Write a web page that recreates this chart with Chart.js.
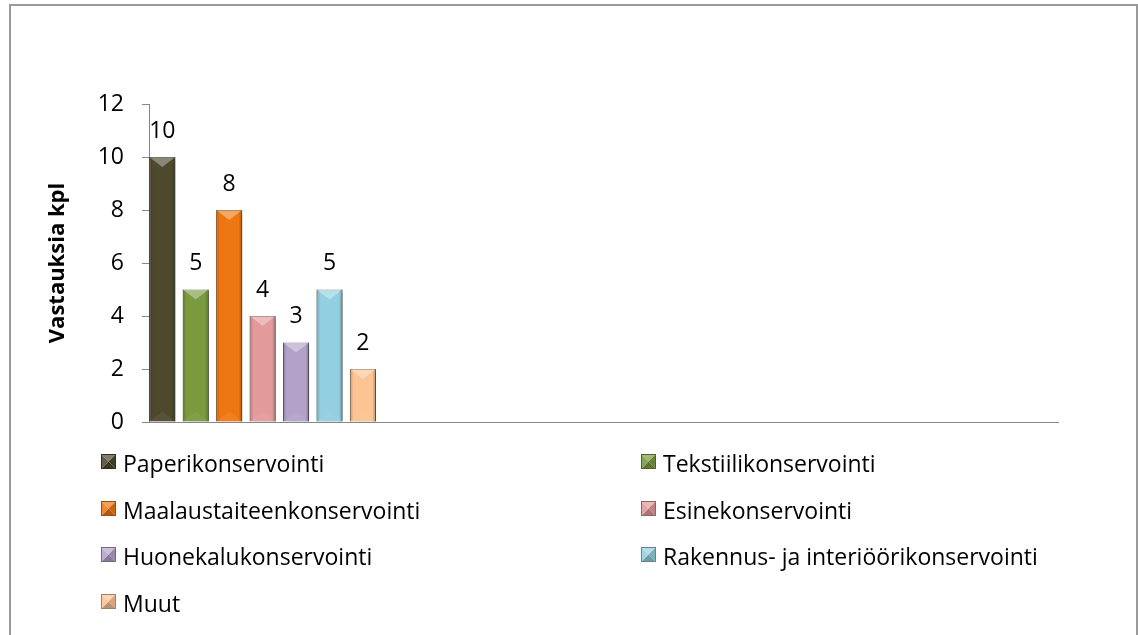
<!DOCTYPE html>
<html>
<head>
<meta charset="utf-8">
<script src="https://cdn.jsdelivr.net/npm/chart.js@4"></script>
<style>
  html, body { margin: 0; padding: 0; background: #ffffff; }
  body { width: 1138px; height: 635px; overflow: hidden; position: relative; font-family: "Open Sans", sans-serif; }
  #frame { position: absolute; left: 9px; top: 4px; width: 1129px; height: 700px; box-sizing: border-box; border: 2px solid #9a9a9a; }
  #wrap { position: absolute; left: 0; top: 0; width: 1138px; height: 635px; }
  .lg { position: absolute; height: 28px; line-height: 28px; font-size: 23px; color: #000; white-space: nowrap; }
  .mk { position: absolute; width: 15px; height: 15px; }
</style>
</head>
<body>
<div id="frame"></div>
<div id="wrap"><canvas id="c" width="1138" height="635"></canvas></div>
<div id="legend"></div>
<script>
// ---- data ----
const categories = ['', '', '', ''];
const seriesNames = [
  'Paperikonservointi',
  'Tekstiilikonservointi',
  'Maalaustaiteenkonservointi',
  'Esinekonservointi',
  'Huonekalukonservointi',
  'Rakennus- ja interiöörikonservointi',
  'Muut'
];
const seriesValues = [10, 5, 8, 4, 3, 5, 2];
const seriesColors = ['#4e482d', '#7a9a3e', '#ef7711', '#e39a9a', '#b3a2c8', '#93cfe0', '#fcc393'];
const yTicks = [0, 2, 4, 6, 8, 10, 12];
const yTitle = 'Vastauksia kpl';

function shade(hex, f) {
  const n = parseInt(hex.slice(1), 16);
  let r = (n >> 16) & 255, g = (n >> 8) & 255, b = n & 255;
  if (f < 0) { r = r * (1 + f); g = g * (1 + f); b = b * (1 + f); }
  else { r = r + (255 - r) * f; g = g + (255 - g) * f; b = b + (255 - b) * f; }
  return 'rgb(' + Math.round(r) + ',' + Math.round(g) + ',' + Math.round(b) + ')';
}

const datasets = seriesNames.map((name, i) => ({
  label: name,
  data: [seriesValues[i]],
  backgroundColor: seriesColors[i],
  borderColor: shade(seriesColors[i], -0.35),
  borderWidth: 1,
  categoryPercentage: 1.03,
  barPercentage: 0.78
}));

const FONT = '"Open Sans", sans-serif';

const shadowPlugin = {
  id: 'shadowBevel',
  beforeDatasetsDraw(chart) {
    const ctx = chart.ctx;
    ctx.save();
    ctx.shadowColor = 'rgba(0,0,0,0.28)';
    ctx.shadowBlur = 4;
    ctx.shadowOffsetX = 3;
    ctx.shadowOffsetY = 1;
  },
  afterDatasetsDraw(chart) {
    const ctx = chart.ctx;
    ctx.restore();
    chart.data.datasets.forEach((ds, di) => {
      const meta = chart.getDatasetMeta(di);
      meta.data.forEach((el) => {
        const p = el.getProps(['x', 'y', 'base', 'width'], true);
        const l = p.x - p.width / 2, r = p.x + p.width / 2, t = p.y, b = p.base;
        const bev = p.width * 0.38;
        ctx.save();
        const g = ctx.createLinearGradient(l, 0, r, 0);
        g.addColorStop(0, 'rgba(0,0,0,0.22)');
        g.addColorStop(0.14, 'rgba(0,0,0,0.0)');
        g.addColorStop(0.86, 'rgba(0,0,0,0.0)');
        g.addColorStop(1, 'rgba(0,0,0,0.28)');
        ctx.fillStyle = g;
        ctx.fillRect(l, t, r - l, b - t);
        ctx.beginPath();
        ctx.moveTo(l, t); ctx.lineTo(r, t); ctx.lineTo(p.x, t + bev); ctx.closePath();
        ctx.fillStyle = 'rgba(255,255,255,0.35)';
        ctx.fill();
        ctx.beginPath();
        ctx.moveTo(l, b); ctx.lineTo(r, b); ctx.lineTo(p.x, b - bev); ctx.closePath();
        ctx.fillStyle = 'rgba(255,255,255,0.06)';
        ctx.fill();
        ctx.restore();
      });
    });
    ctx.save();
    ctx.font = '23px ' + FONT;
    ctx.fillStyle = '#000';
    ctx.textAlign = 'center';
    ctx.textBaseline = 'middle';
    chart.data.datasets.forEach((ds, di) => {
      const meta = chart.getDatasetMeta(di);
      meta.data.forEach((el, k) => {
        const v = ds.data[k];
        if (v === null || v === undefined) return;
        ctx.fillText(String(v), el.x, el.y - 26);
      });
    });
    ctx.restore();
  }
};

new Chart(document.getElementById('c'), {
  type: 'bar',
  data: { labels: categories, datasets },
  options: {
    responsive: false,
    animation: false,
    devicePixelRatio: 1,
    layout: { padding: { left: 0, top: 104, right: 80, bottom: 213 } },
    plugins: { legend: { display: false }, tooltip: { enabled: false } },
    scales: {
      x: {
        grid: { display: false, drawTicks: false },
        border: { display: true, color: '#868686', width: 1 },
        ticks: { display: false }
      },
      y: {
        min: 0, max: 12,
        afterFit(s) { s.width = 149; },
        afterBuildTicks(s) { s.ticks = yTicks.map(v => ({ value: v })); },
        ticks: { color: '#000', font: { family: FONT, size: 23 }, padding: 18 },
        grid: { drawOnChartArea: false, drawTicks: true, tickLength: 7, color: '#868686' },
        border: { display: true, color: '#868686', width: 1 },
        title: {
          display: true, text: yTitle, color: '#000',
          font: { family: FONT, size: 22, weight: 'bold' },
          padding: { top: 45, bottom: 0 }
        }
      }
    }
  },
  plugins: [shadowPlugin]
});

// HTML legend (two columns) with pyramid-bevel markers
const legendCols = [101, 641];
const legendRows = [449, 495.5, 542, 589];
const lg = document.getElementById('legend');
seriesNames.forEach((name, i) => {
  const col = i % 2, row = Math.floor(i / 2);
  const c = seriesColors[i];
  const mk = document.createElement('canvas');
  mk.className = 'mk';
  mk.width = 15; mk.height = 15;
  mk.style.left = legendCols[col] + 'px';
  mk.style.top = (legendRows[row] + 5) + 'px';
  const m = mk.getContext('2d');
  const S = 15, h = S / 2;
  const tri = (pts, col) => {
    m.beginPath(); m.moveTo(pts[0], pts[1]); m.lineTo(pts[2], pts[3]); m.lineTo(h, h); m.closePath();
    m.fillStyle = col; m.fill();
  };
  tri([0, 0, S, 0], shade(c, 0.3));
  tri([S, 0, S, S], shade(c, -0.15));
  tri([S, S, 0, S], shade(c, -0.25));
  tri([0, S, 0, 0], shade(c, 0.12));
  m.strokeStyle = shade(c, -0.35);
  m.lineWidth = 1;
  m.strokeRect(0.5, 0.5, S - 1, S - 1);
  lg.appendChild(mk);
  const tx = document.createElement('div');
  tx.className = 'lg';
  tx.style.left = (legendCols[col] + 22) + 'px';
  tx.style.top = legendRows[row] + 'px';
  tx.textContent = name;
  lg.appendChild(tx);
});
</script>
</body>
</html>
